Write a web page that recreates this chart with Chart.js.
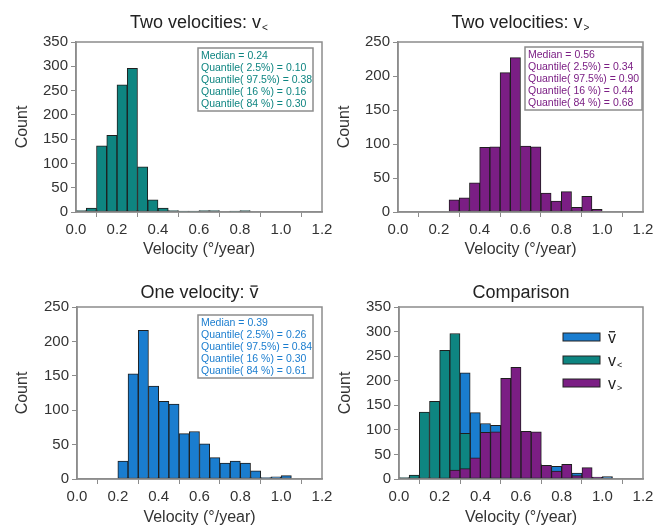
<!DOCTYPE html>
<html>
<head>
<meta charset="utf-8">
<script src="https://cdn.jsdelivr.net/npm/chart.js@4.4.1/dist/chart.umd.min.js"></script>
<style>
    body { margin: 0; background: #fff; width: 661px; height: 527px; overflow: hidden; position: relative; }
    canvas { position: absolute; }
</style>
</head>
<body>
<canvas id="velLess" width="345" height="262" style="left:0;top:0"></canvas>
<canvas id="velMore" width="331" height="262" style="left:330px;top:0"></canvas>
<canvas id="velOne" width="345" height="267" style="left:0;top:260px"></canvas>
<canvas id="velAll" width="331" height="267" style="left:330px;top:260px"></canvas>
<script>
// histogram bins (left edges, width 0.05 deg/year)
const binStarts = [0.00, 0.05, 0.10, 0.15, 0.20, 0.25, 0.30, 0.35, 0.40, 0.45, 0.50, 0.55,
                   0.60, 0.65, 0.70, 0.75, 0.80, 0.85, 0.90, 0.95, 1.00, 1.05, 1.10, 1.15];
const binWidth = 0.05;

// counts per bin
const vLess = [3, 8, 136, 158, 262, 296, 93, 25, 8, 3, 2, 2, 3, 3, 0, 2, 3, 0, 0, 0, 0, 0, 0, 0];
const vMore = [0, 0, 0, 0, 0, 18, 21, 43, 95, 96, 205, 227, 97, 96, 28, 16, 30, 7, 23, 4, 0, 0, 0, 0];
const vOne  = [0, 0, 0, 0, 26, 153, 216, 135, 113, 109, 66, 69, 51, 31, 23, 26, 23, 12, 2, 3, 5, 0, 0, 0];

// summary boxes
const statsLess = ['Median = 0.24', 'Quantile( 2.5%) = 0.10', 'Quantile( 97.5%) = 0.38', 'Quantile( 16 %) = 0.16', 'Quantile( 84 %) = 0.30'];
const statsMore = ['Median = 0.56', 'Quantile( 2.5%) = 0.34', 'Quantile( 97.5%) = 0.90', 'Quantile( 16 %) = 0.44', 'Quantile( 84 %) = 0.68'];
const statsOne  = ['Median = 0.39', 'Quantile( 2.5%) = 0.26', 'Quantile( 97.5%) = 0.84', 'Quantile( 16 %) = 0.30', 'Quantile( 84 %) = 0.61'];

const seriesLabels = [{ text: 'v', over: true }, { text: 'v', sub: '<' }, { text: 'v', sub: '>' }];

const xRange = [0, 1.2];
const xStep = 0.2;
const yStep = 50;

const colors = { one: '#1a7dcf', less: '#0e8581', more: '#7b1e84' };
const FONT = '"Liberation Sans", Arial, sans-serif';

function toPoints(counts) {
    return counts.map((c, i) => ({ x: binStarts[i] + binWidth / 2, y: c }));
}

// text with optional subscript / overline on the last char
function drawRich(ctx, x, cy, spec, size, align) {
    const base = size + 'px ' + FONT;
    const small = Math.round(size * 0.55) + 'px ' + FONT;
    ctx.font = base;
    const w1 = ctx.measureText(spec.text).width;
    let w2 = 0;
    if (spec.sub) { ctx.font = small; w2 = ctx.measureText(spec.sub).width + 1; }
    let x0 = align === 'center' ? x - (w1 + w2) / 2 : x;
    const baseline = cy + size * 0.35;
    ctx.textAlign = 'left';
    ctx.textBaseline = 'alphabetic';
    ctx.font = base;
    ctx.fillText(spec.text, x0, baseline);
    if (spec.over) {
        const wv = ctx.measureText('v').width;
        ctx.save();
        ctx.strokeStyle = ctx.fillStyle;
        ctx.lineWidth = 1.3;
        ctx.beginPath();
        ctx.moveTo(x0 + w1 - wv + 1, baseline - size * 0.68);
        ctx.lineTo(x0 + w1 - 1, baseline - size * 0.68);
        ctx.stroke();
        ctx.restore();
    }
    if (spec.sub) {
        ctx.font = small;
        ctx.fillText(spec.sub, x0 + w1 + 1, baseline + size * 0.15);
    }
}

const decor = {
    id: 'decor',
    afterDraw(chart, args, opts) {
        const { ctx, chartArea: a } = chart;
        ctx.save();
        ctx.strokeStyle = '#8c8c8c';
        ctx.lineWidth = 1.5;
        ctx.strokeRect(a.left, a.top, a.right - a.left, a.bottom - a.top);

        ctx.fillStyle = '#222';
        drawRich(ctx, (a.left + a.right) / 2, opts.titleY, opts.title, 18, 'center');

        if (opts.stats) {
            const s = opts.stats;
            const bx = a.left + s.dx, by = a.top + s.dy;
            ctx.fillStyle = '#fff';
            ctx.fillRect(bx, by, s.w, 63);
            ctx.strokeStyle = '#8c8c8c';
            ctx.lineWidth = 1.5;
            ctx.strokeRect(bx, by, s.w, 63);
            ctx.fillStyle = s.color;
            ctx.font = '10.5px ' + FONT;
            ctx.textAlign = 'left';
            ctx.textBaseline = 'middle';
            s.lines.forEach((t, i) => ctx.fillText(t, bx + 3, by + 8 + i * 12));
        }

        if (opts.legend) {
            chart.data.datasets.forEach((ds, i) => {
                const lx = a.right - 80, ly = a.top + 30 + i * 23;
                ctx.fillStyle = ds.backgroundColor;
                ctx.fillRect(lx, ly - 4, 37, 8);
                ctx.strokeStyle = '#222';
                ctx.lineWidth = 1;
                ctx.strokeRect(lx, ly - 4, 37, 8);
                ctx.fillStyle = '#222';
                drawRich(ctx, lx + 45, ly, seriesLabels[i], 16, 'left');
            });
        }
        ctx.restore();
    }
};

function makeHist(id, datasets, cfg) {
    const ctx = document.getElementById(id).getContext('2d');
    return new Chart(ctx, {
        type: 'bar',
        data: { datasets: datasets },
        options: {
            responsive: false,
            animation: false,
            layout: { padding: { left: 0, top: cfg.top, right: cfg.right, bottom: 0 } },
            plugins: {
                legend: { display: false },
                tooltip: { enabled: false },
                decor: cfg.decor
            },
            scales: {
                x: {
                    type: 'linear',
                    min: xRange[0],
                    max: xRange[1],
                    offset: false,
                    grid: { display: true, drawOnChartArea: false, drawTicks: true, tickLength: 5, color: '#8c8c8c' },
                    border: { color: '#8c8c8c', width: 1.5 },
                    ticks: {
                        stepSize: xStep, padding: 4, color: '#333', maxRotation: 0, autoSkip: false,
                        font: { size: 15, family: FONT },
                        callback: v => Number(v).toFixed(1)
                    },
                    title: {
                        display: true, text: 'Velocity (°/year)', color: '#333',
                        font: { size: 16, family: FONT }, padding: { top: 0, bottom: cfg.xTitlePad }
                    },
                    afterFit: s => { s.height = cfg.axisH; }
                },
                y: {
                    min: 0,
                    max: cfg.yMax,
                    grid: { display: true, drawOnChartArea: false, drawTicks: true, tickLength: 5, color: '#8c8c8c' },
                    border: { color: '#8c8c8c', width: 1.5 },
                    ticks: { stepSize: yStep, padding: 3, color: '#333', font: { size: 15, family: FONT } },
                    title: {
                        display: true, text: 'Count', color: '#333',
                        font: { size: 16, family: FONT }, padding: { top: cfg.yTitlePad, bottom: 0 }
                    },
                    afterFit: s => { s.width = cfg.left; }
                }
            }
        },
        plugins: [decor]
    });
}

function barSet(label, counts, color, order) {
    return {
        label: label,
        data: toPoints(counts),
        backgroundColor: color,
        borderColor: '#1e1e1e',
        borderWidth: 1,
        borderSkipped: false,
        barPercentage: 1,
        categoryPercentage: 1,
        grouped: false,
        order: order
    };
}

makeHist('velLess', [barSet('v<', vLess, colors.less, 0)], {
    top: 42, right: 23, left: 76, axisH: 50, xTitlePad: 3, yTitlePad: 13, yMax: 350,
    decor: { titleY: 22, title: { text: 'Two velocities: v', sub: '<' },
             stats: { dx: 122, dy: 6, w: 115, color: colors.less, lines: statsLess } }
});

makeHist('velMore', [barSet('v>', vMore, colors.more, 0)], {
    top: 42, right: 18, left: 68, axisH: 50, xTitlePad: 3, yTitlePad: 5, yMax: 250,
    decor: { titleY: 22, title: { text: 'Two velocities: v', sub: '>' },
             stats: { dx: 127, dy: 5, w: 117, color: colors.more, lines: statsMore } }
});

makeHist('velOne', [barSet('v\u0304', vOne, colors.one, 0)], {
    top: 47, right: 23, left: 77, axisH: 48, xTitlePad: 0, yTitlePad: 13, yMax: 250,
    decor: { titleY: 32, title: { text: 'One velocity: v', over: true },
             stats: { dx: 121, dy: 8, w: 115, color: colors.one, lines: statsOne } }
});

makeHist('velAll', [
    barSet('v\u0304', vOne, colors.one, 2),
    barSet('v<', vLess, colors.less, 1),
    barSet('v>', vMore, colors.more, 0)
], {
    top: 47, right: 18, left: 69, axisH: 48, xTitlePad: 0, yTitlePad: 6, yMax: 350,
    decor: { titleY: 32, title: { text: 'Comparison' }, legend: true }
});
</script>
</body>
</html>
